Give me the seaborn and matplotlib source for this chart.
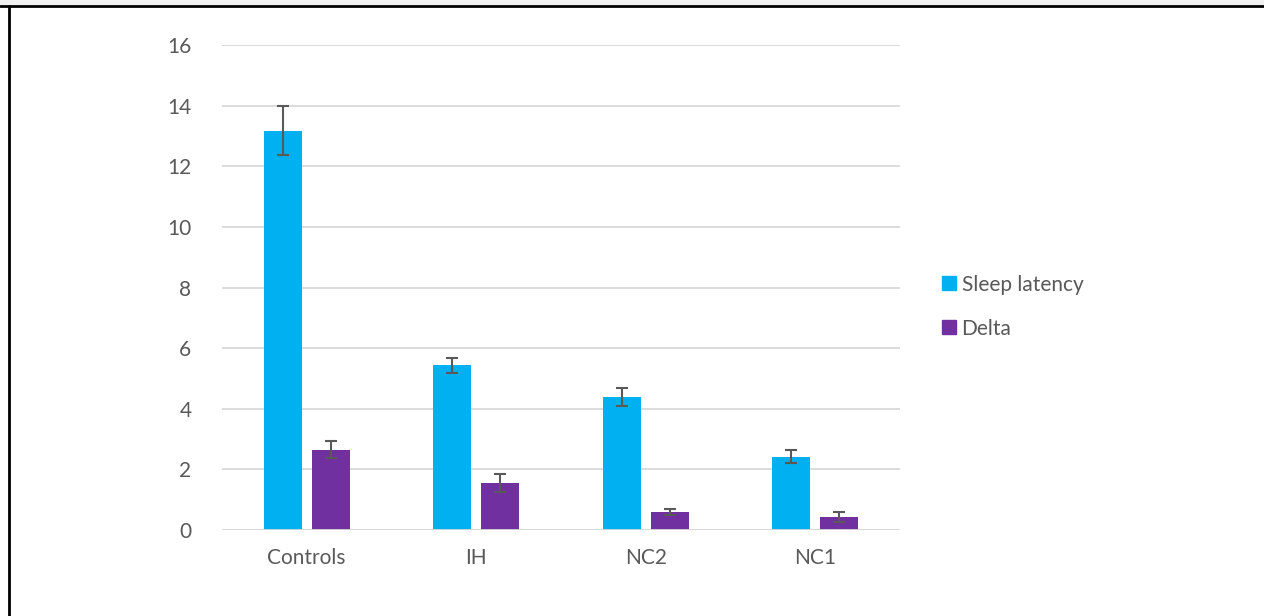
import pandas as pd
import matplotlib.pyplot as plt
import seaborn as sns
from matplotlib.patches import Rectangle
from matplotlib.lines import Line2D

# -----------------------------
# Data
# -----------------------------
groups = ["Controls", "IH", "NC2", "NC1"]
series = ["Sleep latency", "Delta"]
sleep_latency = [13.17, 5.44, 4.39, 2.42]
sleep_latency_err = [0.81, 0.25, 0.29, 0.22]
delta = [2.64, 1.55, 0.59, 0.43]
delta_err = [0.28, 0.31, 0.10, 0.15]
colors = ["#00B0F0", "#7030A0"]
yticks = [0, 2, 4, 6, 8, 10, 12, 14, 16]

df = pd.DataFrame({
    "Group": groups * 2,
    "Series": [series[0]] * 4 + [series[1]] * 4,
    "Value": sleep_latency + delta,
    "Err": sleep_latency_err + delta_err,
})

# -----------------------------
# Figure
# -----------------------------
sns.set_style("white")
plt.rcParams["font.family"] = ["Lato", "DejaVu Sans"]
text_col = "#595959"
fs = 15

fig = plt.figure(figsize=(12.64, 6.16), dpi=100)
ax = fig.add_axes([222 / 1264, 1 - 530 / 616, 678 / 1264, 485 / 616])

sns.barplot(
    data=df, x="Group", y="Value", hue="Series",
    palette=colors, order=groups, hue_order=series,
    width=0.566, gap=0.21, errorbar=None, legend=False,
    saturation=1, linewidth=0, ax=ax
)

# error bars at the bar centres
bar_containers = list(ax.containers)
for i, cont in enumerate(bar_containers):
    sub = df[df["Series"] == series[i]].set_index("Group").loc[groups]
    xs = [p.get_x() + p.get_width() / 2 for p in cont.patches]
    ax.errorbar(xs, sub["Value"], yerr=sub["Err"], fmt="none",
                ecolor="#595959", elinewidth=1.5, capsize=4.5,
                capthick=1.5, zorder=4)

ax.set_ylim(0, 16)
ax.set_yticks(yticks)
ax.set_xlim(-0.5, 3.5)
ax.yaxis.grid(True, color="#D9D9D9", linewidth=1.3)
ax.set_axisbelow(True)
for s in ax.spines.values():
    s.set_visible(False)
ax.axhline(0, color="#D9D9D9", linewidth=1.3, zorder=1)
ax.set_xlabel("")
ax.set_ylabel("")
ax.tick_params(axis="both", length=0, labelsize=fs, colors=text_col)
ax.tick_params(axis="y", pad=22)
ax.tick_params(axis="x", pad=13)

handles = [Line2D([0], [0], marker="s", linestyle="none", markersize=10,
                  markerfacecolor=c, markeredgecolor=c) for c in colors]
fig.legend(handles, series, loc="upper left",
           bbox_to_anchor=(923 / 1264, 1 - 256 / 616),
           frameon=False, fontsize=fs, labelcolor=text_col,
           handlelength=0.7, handletextpad=0.25, labelspacing=1.15)

# -----------------------------
# Frame around the picture
# -----------------------------
fig.patches.append(Rectangle((0, 1 - 5 / 616), 1, 5 / 616,
                             transform=fig.transFigure,
                             facecolor="#F0F0F0", edgecolor="none"))
fig.add_artist(Line2D([0, 1], [1 - 6 / 616, 1 - 6 / 616],
                      transform=fig.transFigure, color="black", linewidth=2))
fig.add_artist(Line2D([9 / 1264, 9 / 1264], [0, 1 - 6 / 616],
                      transform=fig.transFigure, color="black", linewidth=2))

fig.savefig("out.png", dpi=100)
plt.close()
